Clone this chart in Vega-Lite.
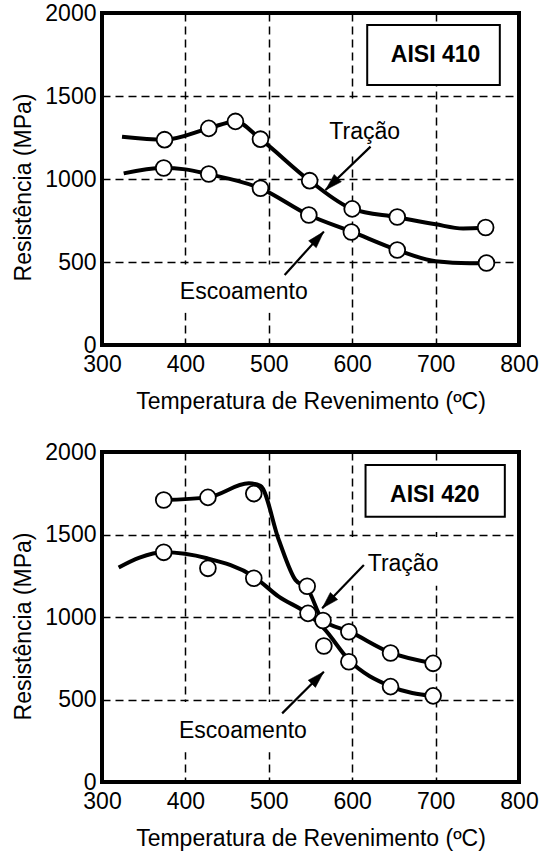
{
  "$schema": "https://vega.github.io/schema/vega-lite/v6.json",
  "padding": {"left": 10, "top": 0, "right": 5, "bottom": 2},
  "spacing": 24,
  "config": {
    "font": "Liberation Sans",
    "view": {"stroke": "black", "strokeWidth": 4},
    "axis": {
      "grid": true, "gridColor": "black", "gridDash": [8, 5], "gridWidth": 1.5, "gridOpacity": 1,
      "ticks": false, "tickSize": 0, "domain": false, "format": "d",
      "labelFont": "Liberation Sans", "labelFontSize": 23, "labelColor": "black",
      "labelFlush": false, "labelOverlap": false,
      "titleFont": "Liberation Sans", "titleFontSize": 23, "titleFontWeight": "normal", "titleColor": "black"
    },
    "axisX": {"labelPadding": 8, "titlePadding": 14},
    "axisY": {"labelPadding": 6}
  },
  "datasets": {
    "lines": [
      {"panel": "410", "series": "Tração", "x": 324, "y": 1255},
      {"panel": "410", "series": "Tração", "x": 375, "y": 1237},
      {"panel": "410", "series": "Tração", "x": 428, "y": 1305},
      {"panel": "410", "series": "Tração", "x": 460, "y": 1347},
      {"panel": "410", "series": "Tração", "x": 490, "y": 1240},
      {"panel": "410", "series": "Tração", "x": 549, "y": 990},
      {"panel": "410", "series": "Tração", "x": 600, "y": 820},
      {"panel": "410", "series": "Tração", "x": 654, "y": 770},
      {"panel": "410", "series": "Tração", "x": 700, "y": 727},
      {"panel": "410", "series": "Tração", "x": 733, "y": 702},
      {"panel": "410", "series": "Tração", "x": 760, "y": 706},
      {"panel": "410", "series": "Escoamento", "x": 326, "y": 1034},
      {"panel": "410", "series": "Escoamento", "x": 373, "y": 1066},
      {"panel": "410", "series": "Escoamento", "x": 400, "y": 1058},
      {"panel": "410", "series": "Escoamento", "x": 427, "y": 1030},
      {"panel": "410", "series": "Escoamento", "x": 490, "y": 944},
      {"panel": "410", "series": "Escoamento", "x": 548, "y": 783},
      {"panel": "410", "series": "Escoamento", "x": 600, "y": 681},
      {"panel": "410", "series": "Escoamento", "x": 654, "y": 572},
      {"panel": "410", "series": "Escoamento", "x": 700, "y": 505},
      {"panel": "410", "series": "Escoamento", "x": 741, "y": 493},
      {"panel": "410", "series": "Escoamento", "x": 761, "y": 494},
      {"panel": "420", "series": "Tração", "x": 373, "y": 1709},
      {"panel": "420", "series": "Tração", "x": 427, "y": 1725},
      {"panel": "420", "series": "Tração", "x": 476, "y": 1810},
      {"panel": "420", "series": "Tração", "x": 490, "y": 1795},
      {"panel": "420", "series": "Tração", "x": 512, "y": 1467},
      {"panel": "420", "series": "Tração", "x": 532, "y": 1224},
      {"panel": "420", "series": "Tração", "x": 546, "y": 1175},
      {"panel": "420", "series": "Tração", "x": 565, "y": 980},
      {"panel": "420", "series": "Tração", "x": 597, "y": 911},
      {"panel": "420", "series": "Tração", "x": 646, "y": 784},
      {"panel": "420", "series": "Tração", "x": 698, "y": 719},
      {"panel": "420", "series": "Escoamento", "x": 320, "y": 1300},
      {"panel": "420", "series": "Escoamento", "x": 345, "y": 1360},
      {"panel": "420", "series": "Escoamento", "x": 374, "y": 1392},
      {"panel": "420", "series": "Escoamento", "x": 426, "y": 1356},
      {"panel": "420", "series": "Escoamento", "x": 482, "y": 1245},
      {"panel": "420", "series": "Escoamento", "x": 512, "y": 1123},
      {"panel": "420", "series": "Escoamento", "x": 546, "y": 1022},
      {"panel": "420", "series": "Escoamento", "x": 566, "y": 931},
      {"panel": "420", "series": "Escoamento", "x": 596, "y": 740},
      {"panel": "420", "series": "Escoamento", "x": 646, "y": 580},
      {"panel": "420", "series": "Escoamento", "x": 698, "y": 520}
    ],
    "points": [
      {"panel": "410", "series": "Tração", "x": 375, "y": 1237},
      {"panel": "410", "series": "Tração", "x": 428, "y": 1305},
      {"panel": "410", "series": "Tração", "x": 460, "y": 1347},
      {"panel": "410", "series": "Tração", "x": 490, "y": 1240},
      {"panel": "410", "series": "Tração", "x": 549, "y": 990},
      {"panel": "410", "series": "Tração", "x": 600, "y": 820},
      {"panel": "410", "series": "Tração", "x": 654, "y": 771},
      {"panel": "410", "series": "Tração", "x": 760, "y": 708},
      {"panel": "410", "series": "Escoamento", "x": 374, "y": 1066},
      {"panel": "410", "series": "Escoamento", "x": 428, "y": 1030},
      {"panel": "410", "series": "Escoamento", "x": 490, "y": 944},
      {"panel": "410", "series": "Escoamento", "x": 548, "y": 783},
      {"panel": "410", "series": "Escoamento", "x": 599, "y": 681},
      {"panel": "410", "series": "Escoamento", "x": 654, "y": 572},
      {"panel": "410", "series": "Escoamento", "x": 761, "y": 494},
      {"panel": "420", "series": "Tração", "x": 374, "y": 1709},
      {"panel": "420", "series": "Tração", "x": 427, "y": 1725},
      {"panel": "420", "series": "Tração", "x": 482, "y": 1748},
      {"panel": "420", "series": "Tração", "x": 546, "y": 1186},
      {"panel": "420", "series": "Tração", "x": 565, "y": 979},
      {"panel": "420", "series": "Tração", "x": 596, "y": 911},
      {"panel": "420", "series": "Tração", "x": 646, "y": 782},
      {"panel": "420", "series": "Tração", "x": 697, "y": 719},
      {"panel": "420", "series": "Escoamento", "x": 374, "y": 1392},
      {"panel": "420", "series": "Escoamento", "x": 427, "y": 1295},
      {"panel": "420", "series": "Escoamento", "x": 482, "y": 1235},
      {"panel": "420", "series": "Escoamento", "x": 547, "y": 1022},
      {"panel": "420", "series": "Escoamento", "x": 566, "y": 824},
      {"panel": "420", "series": "Escoamento", "x": 596, "y": 729},
      {"panel": "420", "series": "Escoamento", "x": 646, "y": 578},
      {"panel": "420", "series": "Escoamento", "x": 697, "y": 522}
    ],
    "arrows": [
      {"panel": "410", "series": "Tração", "x": 568, "y": 934, "x2": 622, "y2": 1195},
      {"panel": "410", "series": "Escoamento", "x": 566, "y": 683, "x2": 519, "y2": 422},
      {"panel": "420", "series": "Tração", "x": 564, "y": 1053, "x2": 614, "y2": 1315},
      {"panel": "420", "series": "Escoamento", "x": 566, "y": 668, "x2": 516, "y2": 416}
    ],
    "labels": [
      {"panel": "410", "text": "Tração", "x": 615, "y": 1240},
      {"panel": "410", "text": "Escoamento", "x": 470, "y": 277},
      {"panel": "420", "text": "Tração", "x": 661, "y": 1281},
      {"panel": "420", "text": "Escoamento", "x": 469, "y": 268}
    ],
    "boxes": [
      {"panel": "410", "text": "AISI 410", "x": 618, "x2": 777, "y": 1566, "y2": 1928, "tx": 700, "ty": 1707},
      {"panel": "420", "text": "AISI 420", "x": 616, "x2": 783, "y": 1608, "y2": 1921, "tx": 699, "ty": 1699}
    ],
    "masks": [
      {"panel": "410", "x": 385, "x2": 555, "y": 195, "y2": 485},
      {"panel": "410", "x": 565, "x2": 660, "y": 1140, "y2": 1485},
      {"panel": "420", "x": 385, "x2": 555, "y": 180, "y2": 485},
      {"panel": "420", "x": 585, "x2": 720, "y": 1190, "y2": 1485},
      {"panel": "420", "x": 688, "x2": 712, "y": 1515, "y2": 1605}
    ]
  },
  "vconcat": [
    {
      "width": 417, "height": 332,
      "encoding": {
        "x": {"field": "x", "type": "quantitative", "scale": {"domain": [300, 800], "nice": false, "zero": false},
              "axis": {"values": [300, 400, 500, 600, 700, 800], "title": "Temperatura de Revenimento (ºC)"}},
        "y": {"field": "y", "type": "quantitative", "scale": {"domain": [0, 2000], "nice": false},
              "axis": {"values": [0, 500, 1000, 1500, 2000], "title": "Resistência (MPa)", "titleX": -72, "titleY": 174, "titleBaseline": "alphabetic", "titleAlign": "center"}}
      },
      "layer": [
        {"data": {"name": "masks"}, "transform": [{"filter": "datum.panel == '410'"}],
         "mark": {"type": "rect", "fill": "white", "strokeWidth": 0},
         "encoding": {"x2": {"field": "x2"}, "y2": {"field": "y2"}}},
        {"data": {"name": "boxes"}, "transform": [{"filter": "datum.panel == '410'"}],
         "mark": {"type": "rect", "fill": "white", "stroke": "black", "strokeWidth": 2},
         "encoding": {"x2": {"field": "x2"}, "y2": {"field": "y2"}}},
        {"data": {"name": "lines"}, "transform": [{"filter": "datum.panel == '410'"}],
         "mark": {"type": "line", "interpolate": "monotone", "color": "black", "strokeWidth": 4},
         "encoding": {"detail": {"field": "series"}}},
        {"data": {"name": "points"}, "transform": [{"filter": "datum.panel == '410'"}],
         "mark": {"type": "point", "shape": "circle", "fill": "white", "stroke": "black", "strokeWidth": 1.8, "size": 250, "opacity": 1, "filled": false, "fillOpacity": 1},
         "encoding": {}},
        {"data": {"name": "arrows"}, "transform": [{"filter": "datum.panel == '410'"}],
         "mark": {"type": "rule", "color": "black", "strokeWidth": 2.2},
         "encoding": {"x2": {"field": "x2"}, "y2": {"field": "y2"}}},
        {"data": {"name": "arrows"}, "transform": [{"filter": "datum.panel == '410' && datum.series == 'Tração'"}],
         "mark": {"type": "point", "shape": "M0,0L0.6,2L-0.6,2Z", "filled": true, "fill": "black", "stroke": "black", "strokeWidth": 0.5, "opacity": 1, "fillOpacity": 1, "size": 290, "angle": 226},
         "encoding": {}},
        {"data": {"name": "arrows"}, "transform": [{"filter": "datum.panel == '410' && datum.series == 'Escoamento'"}],
         "mark": {"type": "point", "shape": "M0,0L0.6,2L-0.6,2Z", "filled": true, "fill": "black", "stroke": "black", "strokeWidth": 0.5, "opacity": 1, "fillOpacity": 1, "size": 290, "angle": 42},
         "encoding": {}},
        {"data": {"name": "labels"}, "transform": [{"filter": "datum.panel == '410'"}],
         "mark": {"type": "text", "font": "Liberation Sans", "fontSize": 23, "align": "center", "baseline": "alphabetic", "color": "black"},
         "encoding": {"text": {"field": "text"}}},
        {"data": {"name": "boxes"}, "transform": [{"filter": "datum.panel == '410'"}],
         "mark": {"type": "text", "font": "Liberation Sans", "fontSize": 23, "fontWeight": "bold", "align": "center", "baseline": "alphabetic", "color": "black"},
         "encoding": {"x": {"field": "tx", "type": "quantitative"}, "y": {"field": "ty", "type": "quantitative"}, "text": {"field": "text"}}}
      ]
    },
    {
      "width": 417, "height": 330,
      "encoding": {
        "x": {"field": "x", "type": "quantitative", "scale": {"domain": [300, 800], "nice": false, "zero": false},
              "axis": {"values": [300, 400, 500, 600, 700, 800], "title": "Temperatura de Revenimento (ºC)"}},
        "y": {"field": "y", "type": "quantitative", "scale": {"domain": [0, 2000], "nice": false},
              "axis": {"values": [0, 500, 1000, 1500, 2000], "title": "Resistência (MPa)", "titleX": -72, "titleY": 174, "titleBaseline": "alphabetic", "titleAlign": "center"}}
      },
      "layer": [
        {"data": {"name": "masks"}, "transform": [{"filter": "datum.panel == '420'"}],
         "mark": {"type": "rect", "fill": "white", "strokeWidth": 0},
         "encoding": {"x2": {"field": "x2"}, "y2": {"field": "y2"}}},
        {"data": {"name": "boxes"}, "transform": [{"filter": "datum.panel == '420'"}],
         "mark": {"type": "rect", "fill": "white", "stroke": "black", "strokeWidth": 2},
         "encoding": {"x2": {"field": "x2"}, "y2": {"field": "y2"}}},
        {"data": {"name": "lines"}, "transform": [{"filter": "datum.panel == '420'"}],
         "mark": {"type": "line", "interpolate": "monotone", "color": "black", "strokeWidth": 4},
         "encoding": {"detail": {"field": "series"}}},
        {"data": {"name": "points"}, "transform": [{"filter": "datum.panel == '420'"}],
         "mark": {"type": "point", "shape": "circle", "fill": "white", "stroke": "black", "strokeWidth": 1.8, "size": 250, "opacity": 1, "filled": false, "fillOpacity": 1},
         "encoding": {}},
        {"data": {"name": "arrows"}, "transform": [{"filter": "datum.panel == '420'"}],
         "mark": {"type": "rule", "color": "black", "strokeWidth": 2.2},
         "encoding": {"x2": {"field": "x2"}, "y2": {"field": "y2"}}},
        {"data": {"name": "arrows"}, "transform": [{"filter": "datum.panel == '420' && datum.series == 'Tração'"}],
         "mark": {"type": "point", "shape": "M0,0L0.6,2L-0.6,2Z", "filled": true, "fill": "black", "stroke": "black", "strokeWidth": 0.5, "opacity": 1, "fillOpacity": 1, "size": 290, "angle": 224},
         "encoding": {}},
        {"data": {"name": "arrows"}, "transform": [{"filter": "datum.panel == '420' && datum.series == 'Escoamento'"}],
         "mark": {"type": "point", "shape": "M0,0L0.6,2L-0.6,2Z", "filled": true, "fill": "black", "stroke": "black", "strokeWidth": 0.5, "opacity": 1, "fillOpacity": 1, "size": 290, "angle": 45},
         "encoding": {}},
        {"data": {"name": "labels"}, "transform": [{"filter": "datum.panel == '420'"}],
         "mark": {"type": "text", "font": "Liberation Sans", "fontSize": 23, "align": "center", "baseline": "alphabetic", "color": "black"},
         "encoding": {"text": {"field": "text"}}},
        {"data": {"name": "boxes"}, "transform": [{"filter": "datum.panel == '420'"}],
         "mark": {"type": "text", "font": "Liberation Sans", "fontSize": 23, "fontWeight": "bold", "align": "center", "baseline": "alphabetic", "color": "black"},
         "encoding": {"x": {"field": "tx", "type": "quantitative"}, "y": {"field": "ty", "type": "quantitative"}, "text": {"field": "text"}}}
      ]
    }
  ]
}
